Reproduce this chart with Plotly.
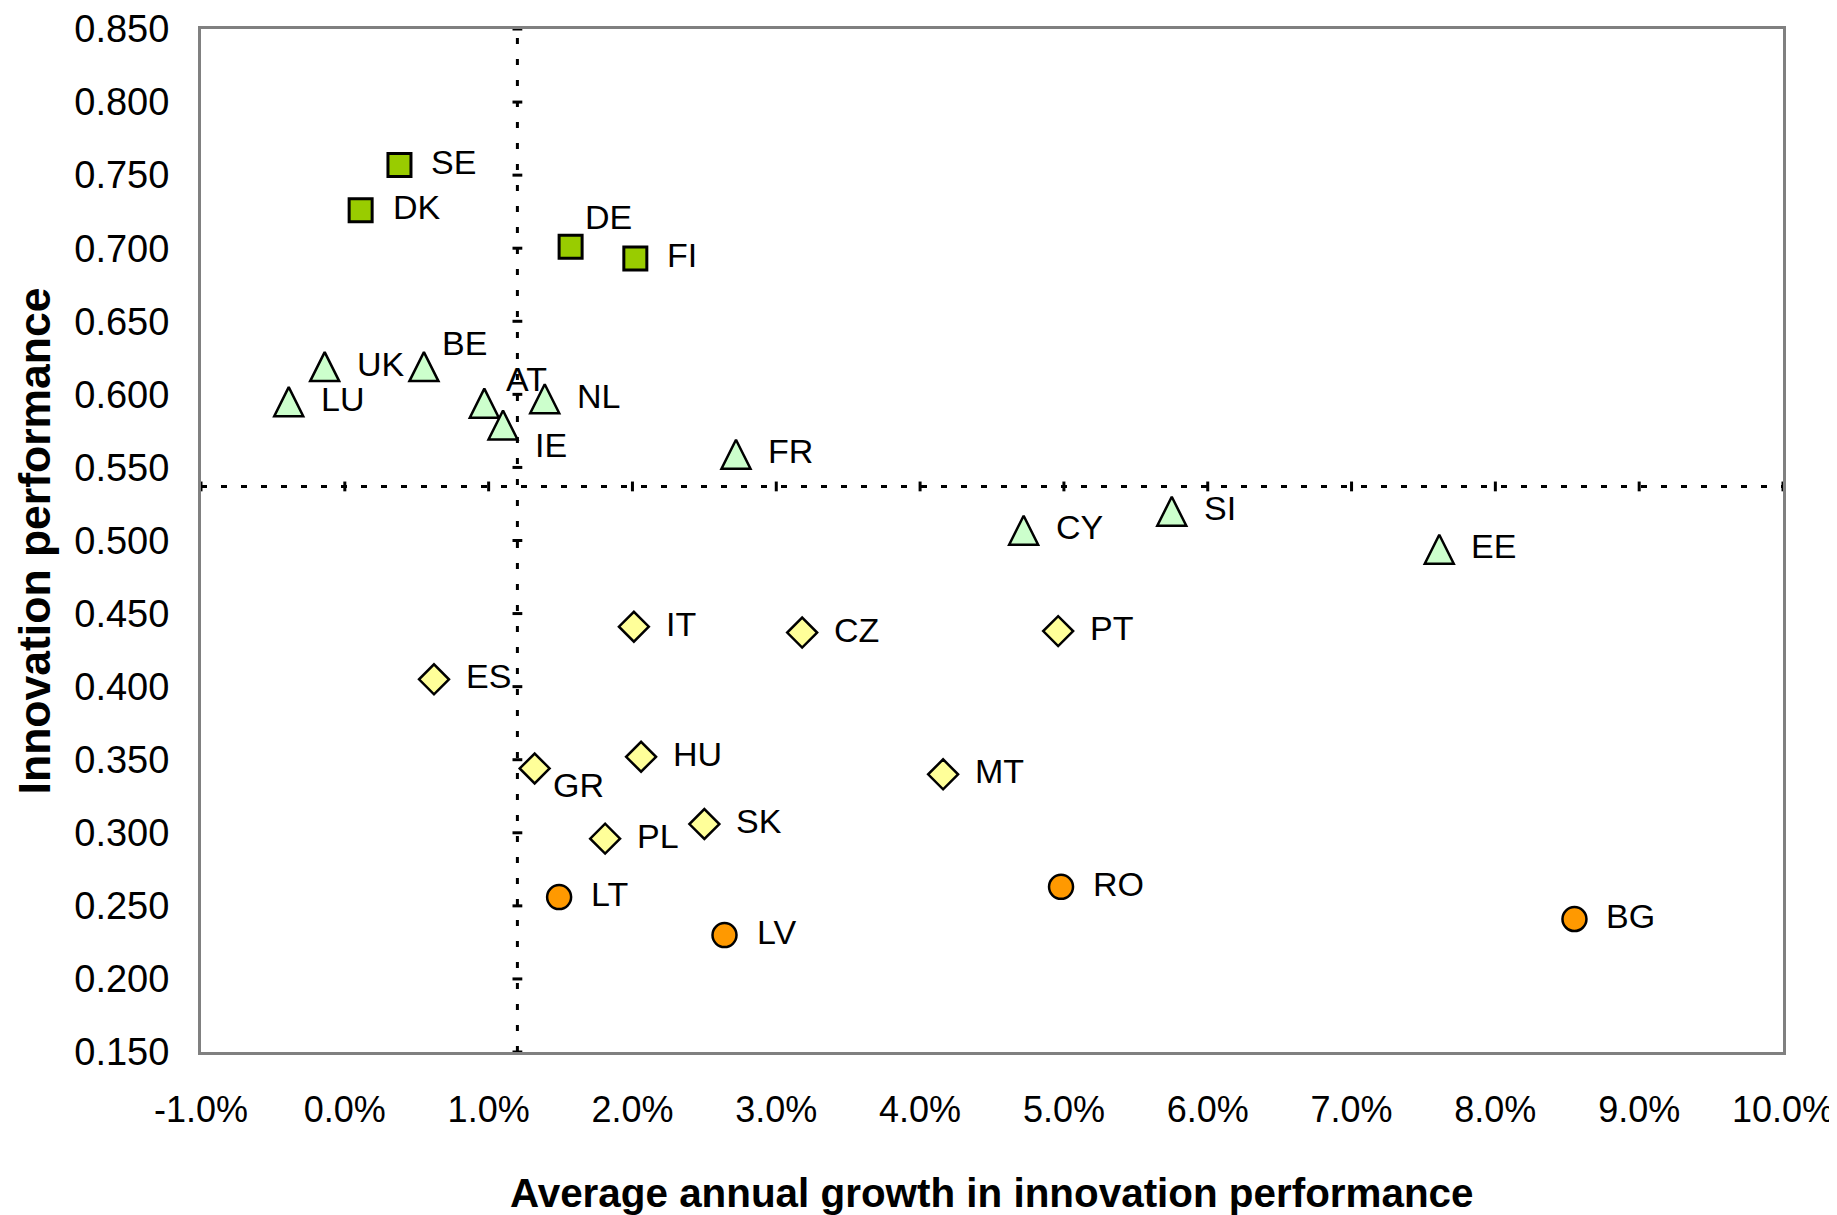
import plotly.graph_objects as go

# ---- data (x = average annual growth in %, y = innovation performance) ----
leaders = ["SE", "DK", "DE", "FI"]
leaders_x = [0.38, 0.11, 1.57, 2.02]
leaders_y = [0.757, 0.726, 0.701, 0.693]

followers = ["UK", "BE", "LU", "AT", "NL", "IE", "FR", "CY", "SI", "EE"]
followers_x = [-0.14, 0.55, -0.39, 0.97, 1.39, 1.10, 2.72, 4.72, 5.75, 7.61]
followers_y = [0.619, 0.619, 0.595, 0.594, 0.597, 0.579, 0.559, 0.507, 0.520, 0.494]

moderate = ["IT", "CZ", "PT", "ES", "GR", "HU", "MT", "PL", "SK"]
moderate_x = [2.01, 3.18, 4.96, 0.62, 1.32, 2.06, 4.16, 1.81, 2.50]
moderate_y = [0.441, 0.437, 0.438, 0.405, 0.344, 0.352, 0.340, 0.296, 0.306]

catching = ["LT", "LV", "RO", "BG"]
catching_x = [1.49, 2.64, 4.98, 8.55]
catching_y = [0.256, 0.230, 0.263, 0.241]

# reference lines (EU averages)
avg_growth = 1.2
avg_perf = 0.537

x_ticks = [-1, 0, 1, 2, 3, 4, 5, 6, 7, 8, 9, 10]
y_ticks = [0.15, 0.20, 0.25, 0.30, 0.35, 0.40, 0.45, 0.50, 0.55, 0.60, 0.65, 0.70, 0.75, 0.80, 0.85]

# label offsets (pixels) for labels not placed at middle-right
label_shift = {
    "DE": (12, 30), "BE": (16, 24), "AT": (20, 24), "IE": (30, -20), "GR": (16, -17),
}

FONT = "Liberation Sans, Arial, sans-serif"

fig = go.Figure()

# reference dotted lines
fig.add_shape(type="line", xref="x", yref="y", x0=avg_growth, x1=avg_growth,
              y0=y_ticks[0], y1=y_ticks[-1], line=dict(color="black", width=3, dash="6px,15px"))
fig.add_shape(type="line", xref="x", yref="y", x0=x_ticks[0], x1=x_ticks[-1],
              y0=avg_perf, y1=avg_perf, line=dict(color="black", width=3, dash="6px,14px"))

# small tick marks on the reference lines
fig.add_trace(go.Scatter(x=[avg_growth] * len(y_ticks), y=y_ticks, mode="markers",
                         marker=dict(symbol="line-ew", size=7, line=dict(color="black", width=3)),
                         showlegend=False, hoverinfo="skip", cliponaxis=False))
fig.add_trace(go.Scatter(x=x_ticks, y=[avg_perf] * len(x_ticks), mode="markers",
                         marker=dict(symbol="line-ns", size=7, line=dict(color="black", width=3)),
                         showlegend=False, hoverinfo="skip", cliponaxis=False))

# (names, x, y, symbol, fill, size, outline width, angle, standoff)
groups = [
    (leaders, leaders_x, leaders_y, "square", "#99CC00", 23, 3, 0, 0),
    (followers, followers_x, followers_y, "arrow-down", "#CCFFCC", 29, 2.5, 180, 14.5),
    (moderate, moderate_x, moderate_y, "diamond", "#FFFF99", 23, 2.5, 0, 0),
    (catching, catching_x, catching_y, "circle", "#FF9900", 24, 2.5, 0, 0),
]

for names, xs, ys, sym, col, size, lw, ang, so in groups:
    fig.add_trace(go.Scatter(x=xs, y=ys, mode="markers", text=names,
                             marker=dict(symbol=sym, color=col, size=size, angle=ang, standoff=so,
                                         line=dict(color="black", width=lw)),
                             showlegend=False))
    for n, x, y in zip(names, xs, ys):
        dx, dy = label_shift.get(n, (30, 3))
        fig.add_annotation(x=x, y=y, xref="x", yref="y", text=n, showarrow=False,
                           xanchor="left", yanchor="middle", xshift=dx, yshift=dy,
                           font=dict(family=FONT, size=34, color="black"))

# axis titles
fig.add_annotation(xref="paper", yref="paper", x=0.5, y=-0.138,
                   text="<b>Average annual growth in innovation performance</b>",
                   showarrow=False, xanchor="center", yanchor="middle",
                   font=dict(family=FONT, size=40.4, color="black"))
fig.add_annotation(xref="paper", yref="paper", x=-0.105, y=0.5, text="<b>Innovation performance</b>",
                   showarrow=False, xanchor="center", yanchor="middle", textangle=-90,
                   font=dict(family=FONT, size=44.5, color="black"))

fig.update_xaxes(range=[x_ticks[0], x_ticks[-1]], tickvals=x_ticks,
                 ticktext=[f"{v:.1f}%" for v in x_ticks], automargin=False,
                 showgrid=False, zeroline=False, showline=True, mirror=True,
                 linecolor="#808080", linewidth=3, ticks="", ticklabelstandoff=24,
                 tickfont=dict(family=FONT, size=36, color="black"))
fig.update_yaxes(range=[y_ticks[0], y_ticks[-1]], tickvals=y_ticks,
                 ticktext=[f"{v:.3f}" for v in y_ticks], automargin=False,
                 showgrid=False, zeroline=False, showline=True, mirror=True,
                 linecolor="#808080", linewidth=3, ticks="", ticklabelstandoff=21,
                 tickfont=dict(family=FONT, size=38, color="black"))

# page body has an 8px margin, so the figure is sized to fit the window
fig.update_layout(template="none", width=1829, height=1207,
                  paper_bgcolor="white", plot_bgcolor="white",
                  margin=dict(l=193, r=54, t=21, b=163, autoexpand=False), showlegend=False)

fig.write_html("out.html")
